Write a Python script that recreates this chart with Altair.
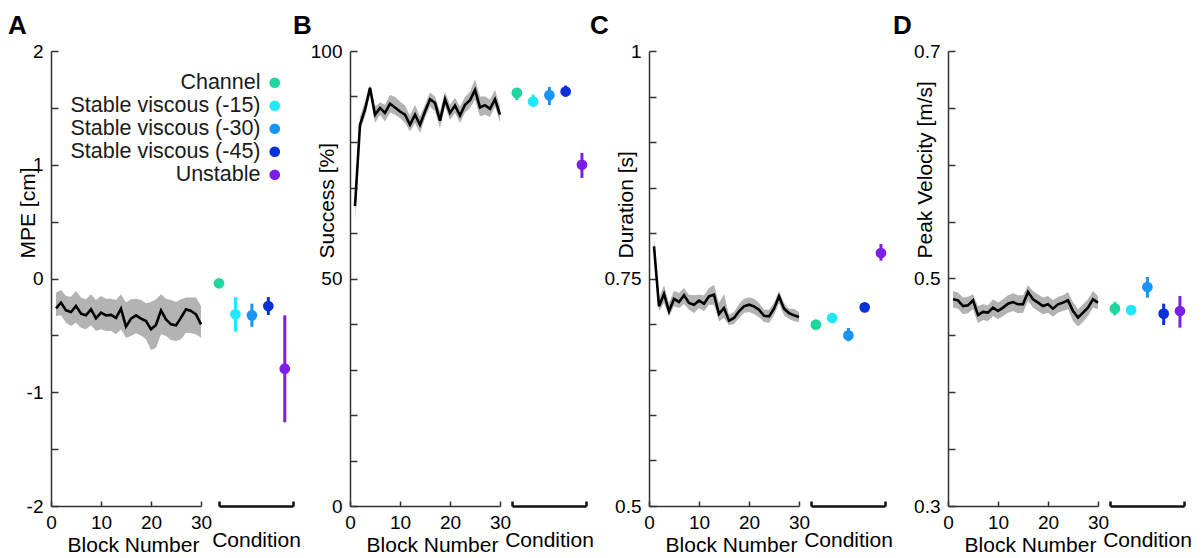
import altair as alt
import pandas as pd

FONT = "Liberation Sans"

blocks = list(range(1, 31))

# Panel A: MPE [cm]
a_mean = [-0.262, -0.212, -0.28, -0.295, -0.242, -0.31, -0.324, -0.271, -0.35, -0.30,
          -0.324, -0.32, -0.347, -0.265, -0.423, -0.353, -0.324, -0.353, -0.374, -0.447,
          -0.409, -0.28, -0.359, -0.403, -0.412, -0.344, -0.271, -0.286, -0.315, -0.403]
a_upper = [-0.125, -0.101, -0.154, -0.160, -0.110, -0.168, -0.183, -0.139, -0.189, -0.154,
           -0.177, -0.177, -0.189, -0.139, -0.212, -0.183, -0.177, -0.189, -0.218, -0.207,
           -0.183, -0.139, -0.177, -0.189, -0.207, -0.183, -0.168, -0.168, -0.168, -0.242]
a_lower = [-0.33, -0.324, -0.388, -0.418, -0.388, -0.432, -0.447, -0.412, -0.462, -0.447,
           -0.462, -0.462, -0.491, -0.447, -0.52, -0.506, -0.482, -0.5, -0.535, -0.628,
           -0.608, -0.491, -0.506, -0.541, -0.549, -0.535, -0.476, -0.482, -0.491, -0.52]

# Panel B: Success [%]
b_mean = [65.9, 83.8, 87.1, 91.9, 86.0, 87.5, 86.4, 88.4, 87.6, 86.7,
          86.0, 83.8, 86.0, 83.8, 86.7, 89.4, 88.6, 84.7, 89.4, 86.4,
          88.0, 85.8, 88.2, 89.2, 91.4, 87.6, 88.1, 87.3, 89.4, 86.0]
b_upper = [68.1, 85.6, 88.9, 92.6, 87.8, 88.7, 88.2, 90.4, 89.9, 88.9,
           88.0, 85.8, 88.2, 85.6, 88.2, 90.9, 90.0, 86.7, 91.1, 88.2,
           89.7, 87.8, 89.9, 91.1, 93.8, 90.0, 90.0, 89.3, 91.5, 87.8]
b_lower = [62.9, 82.3, 85.6, 90.4, 84.2, 86.0, 84.5, 86.5, 86.0, 85.3,
           84.2, 82.3, 84.2, 82.0, 85.3, 87.8, 86.7, 83.1, 87.8, 84.9,
           86.4, 84.2, 86.5, 87.5, 89.3, 85.6, 86.0, 85.5, 87.8, 84.3]

# Panel C: Duration [s]
c_mean = [0.7853, 0.7194, 0.733, 0.714, 0.7275, 0.7242, 0.7315, 0.7231, 0.7212, 0.7256,
          0.7223, 0.7304, 0.7322, 0.711, 0.7176, 0.7037, 0.7066, 0.714, 0.7194, 0.7212,
          0.7194, 0.7157, 0.7091, 0.7084, 0.7168, 0.7304, 0.7168, 0.712, 0.7095, 0.7077]
c_upper = [0.7945, 0.7286, 0.7425, 0.7231, 0.7366, 0.734, 0.7396, 0.7322, 0.7315, 0.7322,
           0.7315, 0.7396, 0.7432, 0.7231, 0.733, 0.7103, 0.7132, 0.722, 0.7278, 0.7293,
           0.7278, 0.7231, 0.7157, 0.7157, 0.7231, 0.7359, 0.7231, 0.7168, 0.7168, 0.7132]
c_lower = [0.7725, 0.7139, 0.7231, 0.7084, 0.7194, 0.7176, 0.722, 0.7157, 0.7121, 0.7176,
           0.7139, 0.7212, 0.7212, 0.7029, 0.7066, 0.6985, 0.7, 0.7066, 0.7121, 0.7132,
           0.711, 0.7073, 0.7022, 0.7011, 0.7095, 0.7231, 0.7095, 0.7059, 0.7029, 0.7022]

# Panel D: Peak Velocity [m/s]
d_mean = [0.4817, 0.4808, 0.4758, 0.4764, 0.4808, 0.4679, 0.4706, 0.47, 0.4744, 0.4714,
          0.4744, 0.4779, 0.4793, 0.4773, 0.4773, 0.4881, 0.4817, 0.4788, 0.4758, 0.4773,
          0.4735, 0.4773, 0.4788, 0.4808, 0.4714, 0.4656, 0.47, 0.4744, 0.4817, 0.4788]
d_upper = [0.489, 0.4876, 0.4832, 0.484, 0.4861, 0.4758, 0.4773, 0.4764, 0.4817, 0.4788,
           0.4817, 0.4852, 0.487, 0.4852, 0.4852, 0.494, 0.489, 0.4861, 0.4832, 0.4846,
           0.4811, 0.484, 0.4852, 0.4881, 0.4794, 0.4729, 0.4773, 0.4817, 0.489, 0.4846]
d_lower = [0.4744, 0.4735, 0.4685, 0.4694, 0.4729, 0.4606, 0.4635, 0.4626, 0.467, 0.4641,
           0.467, 0.47, 0.4714, 0.4694, 0.47, 0.4802, 0.4744, 0.4714, 0.4685, 0.47,
           0.4664, 0.47, 0.4714, 0.4729, 0.4626, 0.4577, 0.4618, 0.467, 0.4744, 0.4729]

# Conditions
conditions = ["Channel", "Stable viscous (-15)", "Stable viscous (-30)",
              "Stable viscous (-45)", "Unstable"]
cond_colors = ["#1fd6a0", "#1fe8f8", "#1a94f4", "#0a30d8", "#7b1fe8"]
cond_pos = [1, 2, 3, 4, 5]

a_cond = [-0.042, -0.315, -0.324, -0.242, -0.793]
a_cond_lo = [-0.06, -0.467, -0.424, -0.321, -1.264]
a_cond_hi = [-0.025, -0.163, -0.221, -0.163, -0.324]

b_cond = [90.8, 88.9, 90.3, 91.1, 75.0]
b_cond_lo = [89.2, 87.7, 88.1, 90.0, 72.1]
b_cond_hi = [91.9, 90.4, 92.1, 92.4, 77.6]

c_cond = [0.6993, 0.7066, 0.6875, 0.7183, 0.778]
c_cond_lo = [0.697, 0.704, 0.681, 0.716, 0.7696]
c_cond_hi = [0.701, 0.709, 0.6956, 0.7205, 0.7879]

d_cond = [0.4735, 0.4723, 0.4925, 0.4691, 0.4714]
d_cond_lo = [0.4676, 0.470, 0.4832, 0.4591, 0.4568]
d_cond_hi = [0.4794, 0.4745, 0.5013, 0.4779, 0.4846]

# Axis ticks
a_ticks = [-2, -1.5, -1, -0.5, 0, 0.5, 1, 1.5, 2]
a_labels = [-2, -1, 0, 1, 2]
b_ticks = [0, 10, 20, 30, 40, 50, 60, 70, 80, 90, 100]
b_labels = [0, 50, 100]
c_ticks = [0.5, 0.55, 0.6, 0.65, 0.7, 0.75, 0.8, 0.85, 0.9, 0.95, 1]
c_labels = [0.5, 0.75, 1]
d_ticks = [0.3, 0.35, 0.4, 0.45, 0.5, 0.55, 0.6, 0.65, 0.7]
d_labels = [0.3, 0.5, 0.7]
block_ticks = [0, 10, 20, 30]

H = 455
BW = 150
AXC = "#333333"
YTICK = alt.ExprRef(expr="-7")
XTICK = alt.ExprRef(expr="-5")

cond_scale = alt.Scale(domain=conditions, range=cond_colors)
cond_legend = alt.Legend(title=None, orient="none", legendX=194, legendY=21,
                         direction="vertical", symbolType="circle",
                         symbolSize=115, symbolStrokeWidth=0,
                         symbolOpacity=1, labelAlign="right",
                         labelOffset=alt.ExprRef(expr="-25"), symbolOffset=19,
                         labelFontSize=21.5, labelFont=FONT,
                         labelColor="#1a1a1a", labelLimit=400,
                         rowPadding=0, padding=0)


def label_expr(labels):
    return "indexof([" + ",".join(str(v) for v in labels) + "], datum.value) >= 0 ? toString(datum.value) : ''"


def block_panel(mean, lo, hi, ydom, ticks, labels, ytitle, letter, ldx):
    df = pd.DataFrame({"block": blocks, "mean": mean, "lo": lo, "hi": hi})
    x = alt.X("block:Q",
              scale=alt.Scale(domain=[0, 30], nice=False, zero=False),
              axis=alt.Axis(values=block_ticks, title="Block Number", tickSize=XTICK,
                            labelPadding=12, titlePadding=2, labelFlush=False,
                            labelOverlap=False, titleX=82, format="d"))
    yscale = alt.Scale(domain=ydom, nice=False, zero=False)
    y_axis = alt.Axis(values=ticks, labelExpr=label_expr(labels), title=ytitle,
                      tickSize=YTICK, labelPadding=15, labelFlush=False,
                      labelOverlap=False, titleAlign="left", titleAnchor="start",
                      titleY=207, titleX=-17, titleBaseline="alphabetic", titleAngle=270)
    band = alt.Chart(df).mark_area(color="#b3b3b3", opacity=1).encode(
        x=x, y=alt.Y("lo:Q", scale=yscale, axis=y_axis), y2="hi:Q")
    line = alt.Chart(df).mark_line(color="black", strokeWidth=2.6).encode(
        x="block:Q", y="mean:Q")
    return alt.layer(band, line).properties(
        width=BW, height=H,
        title=alt.TitleParams(letter, anchor="start", frame="group", dx=ldx, offset=3,
                              fontSize=26, fontWeight="bold", font=FONT, color="black"))


def cond_panel(vals, lo, hi, ydom, xdom, xrange, width):
    df = pd.DataFrame({"condition": conditions, "pos": cond_pos,
                       "val": vals, "lo": lo, "hi": hi})
    x = alt.X("pos:Q", scale=alt.Scale(domain=xdom, range=xrange, nice=False, zero=False),
              axis=alt.Axis(values=xdom, labels=False, title="Condition", tickSize=XTICK,
                            domainWidth=2.5, tickWidth=2.5, domainColor="#111111",
                            tickColor="#111111", titlePadding=22))
    yscale = alt.Scale(domain=ydom, nice=False, zero=False)
    color = alt.Color("condition:N", scale=cond_scale, legend=cond_legend)
    rules = alt.Chart(df).mark_rule(strokeWidth=3).encode(
        x=x, y=alt.Y("lo:Q", scale=yscale, axis=None), y2="hi:Q", color=color)
    pts = alt.Chart(df).mark_circle(size=115, opacity=1).encode(
        x="pos:Q", y="val:Q", color=color)
    return alt.layer(rules, pts).properties(width=width, height=H)


pa = block_panel(a_mean, a_lower, a_upper, [-2, 2], a_ticks, a_labels, "MPE [cm]", "A", -43)
pb = block_panel(b_mean, b_lower, b_upper, [0, 100], b_ticks, b_labels, "Success [%]", "B", -57)
pc = block_panel(c_mean, c_lower, c_upper, [0.5, 1], c_ticks, c_labels, "Duration [s]", "C", -59)
pd_ = block_panel(d_mean, d_lower, d_upper, [0.3, 0.7], d_ticks, d_labels, "Peak Velocity [m/s]", "D", -55)

ca = cond_panel(a_cond, a_cond_lo, a_cond_hi, [-2, 2], [1, 5.5], [6, 80], 125)
cb = cond_panel(b_cond, b_cond_lo, b_cond_hi, [0, 100], [0.7, 5.25], [0, 74], 125)
cc = cond_panel(c_cond, c_cond_lo, c_cond_hi, [0.5, 1], [0.7, 5.25], [0, 74], 125)
cd = cond_panel(d_cond, d_cond_lo, d_cond_hi, [0.3, 0.7], [0.7, 5.25], [0, 74], 80)

chart = alt.hconcat(pa, ca, pb, cb, pc, cc, pd_, cd, spacing=12, bounds="flush").resolve_scale(
    x="independent", y="independent", color="shared"
).properties(
    padding={"left": 0, "top": 5, "right": 2, "bottom": 0}
).configure_view(stroke=None).configure_axis(
    grid=False, domainColor=AXC, tickColor=AXC, domainWidth=1.5, tickWidth=1.5,
    labelFont=FONT, titleFont=FONT, labelFontSize=19, titleFontSize=21,
    labelColor="black", titleColor="black", titleFontWeight="normal"
).configure_legend(labelFont=FONT)

chart.save("out.html", embed_options={"renderer": "svg", "actions": False})
